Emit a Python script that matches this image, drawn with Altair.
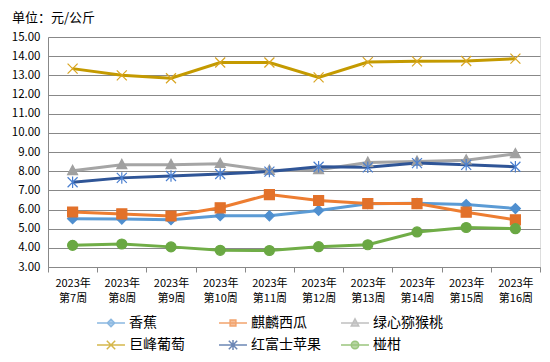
import altair as alt
import pandas as pd

weeks = ["2023年第7周", "2023年第8周", "2023年第9周", "2023年第10周", "2023年第11周",
         "2023年第12周", "2023年第13周", "2023年第14周", "2023年第15周", "2023年第16周"]
series_names = ["香蕉", "麒麟西瓜", "绿心猕猴桃", "巨峰葡萄", "红富士苹果", "椪柑"]
banana = [5.52, 5.50, 5.47, 5.68, 5.67, 5.95, 6.30, 6.32, 6.26, 6.05]
watermelon = [5.87, 5.77, 5.66, 6.09, 6.78, 6.47, 6.31, 6.31, 5.86, 5.46]
kiwi = [8.02, 8.33, 8.33, 8.39, 8.03, 8.07, 8.45, 8.50, 8.57, 8.90]
grape = [13.35, 13.00, 12.85, 13.67, 13.67, 12.89, 13.69, 13.73, 13.75, 13.87]
apple = [7.42, 7.65, 7.75, 7.85, 7.98, 8.23, 8.20, 8.42, 8.33, 8.23]
ponkan = [4.13, 4.20, 4.05, 3.87, 3.86, 4.06, 4.16, 4.83, 5.06, 5.00]
values = [banana, watermelon, kiwi, grape, apple, ponkan]

line_colors = ["#5B9BD5", "#ED7D31", "#A5A5A5", "#C49A00", "#2F5597", "#70AD47"]
marker_colors = ["#4F8FCF", "#E2712A", "#A0A0A0", "#D9A520", "#4A7FD0", "#6AA843"]

rows = []
for name, vals in zip(series_names, values):
    for w, v in zip(weeks, vals):
        rows.append({"week": w, "series": name, "value": v})
df = pd.DataFrame(rows)

FONT = "Noto Sans CJK SC"

marker_shapes = [
    "diamond",
    "square",
    "M0,-1.1L1,0.75H-1Z",
    "M-1,-1L1,1M-1,1L1,-1",
    "M-1,-1L1,1M-1,1L1,-1M0,-1.15V1.15",
    "circle",
]
# legend symbols: a horizontal line with the marker in the middle
legend_shapes = [
    "M-2.33,0H2.33M0,-0.62L0.62,0L0,0.62L-0.62,0Z",
    "M-2.33,0H2.33M-0.48,-0.48H0.48V0.48H-0.48Z",
    "M-2.33,0H2.33M0,-0.7L0.62,0.48H-0.62Z",
    "M-2.33,0H2.33M-0.7,-0.7L0.7,0.7M-0.7,0.7L0.7,-0.7",
    "M-2.33,0H2.33M-0.7,-0.7L0.7,0.7M-0.7,0.7L0.7,-0.7M0,-0.85V0.85",
    "M-2.33,0H2.33M0.62,0A0.62,0.62 0 1,1 -0.62,0A0.62,0.62 0 1,1 0.62,0Z",
]

x_enc = alt.X("week:N", sort=weeks,
              scale=alt.Scale(type="band", paddingInner=0, paddingOuter=0),
              axis=alt.Axis(title=None, labelAngle=0, tickBand="extent",
                            labelExpr="[slice(datum.label,0,5), slice(datum.label,5)]",
                            labelFont=FONT, labelFontSize=11, labelColor="#000000",
                            labelPadding=5, labelLineHeight=15,
                            domainColor="#888888", tickColor="#888888", tickSize=5,
                            grid=False))
y_enc = alt.Y("value:Q",
              scale=alt.Scale(domain=[3, 15], nice=False, zero=False),
              axis=alt.Axis(title=None, values=list(range(3, 16)), format=".2f",
                            labelFont=FONT, labelFontSize=11.5, labelColor="#000000",
                            labelPadding=8, ticks=False, domainColor="#888888",
                            gridColor="#888888", gridWidth=1))

base = alt.Chart(df)

lines = base.mark_line(strokeWidth=3).encode(
    x=x_enc, y=y_enc,
    color=alt.Color("series:N", sort=series_names,
                    scale=alt.Scale(domain=series_names, range=line_colors), legend=None),
    detail="series:N",
)

points = base.mark_point(filled=True, size=100, strokeWidth=1.2, opacity=1).encode(
    x=x_enc, y=y_enc,
    shape=alt.Shape("series:N", scale=alt.Scale(domain=series_names, range=marker_shapes), legend=None),
    fill=alt.Fill("series:N", scale=alt.Scale(domain=series_names, range=marker_colors), legend=None),
    stroke=alt.Stroke("series:N", scale=alt.Scale(domain=series_names, range=marker_colors), legend=None),
)


def make_legend():
    return alt.Legend(title=None, orient="none", legendX=56, legendY=278,
                      direction="horizontal", columns=3, gridAlign="all",
                      columnPadding=17, rowPadding=5, symbolSize=144,
                      labelFont=FONT, labelFontSize=14, labelColor="#000000",
                      labelOffset=11)


legend_layer = base.mark_point(filled=True, size=0, strokeWidth=2.5).encode(
    x=x_enc, y=y_enc,
    shape=alt.Shape("series:N", scale=alt.Scale(domain=series_names, range=legend_shapes),
                    legend=make_legend()),
    fill=alt.Fill("series:N", scale=alt.Scale(domain=series_names, range=line_colors),
                  legend=make_legend()),
    stroke=alt.Stroke("series:N", scale=alt.Scale(domain=series_names, range=line_colors),
                      legend=make_legend()),
)

chart = alt.layer(lines, points, legend_layer).resolve_scale(
    shape="independent", fill="independent", stroke="independent"
).properties(
    width=492, height=230,
    title=alt.TitleParams("单位：元/公斤", anchor="start", frame="group", dx=-36, offset=6,
                          font=FONT, fontSize=13, fontWeight="normal", color="#000000"),
    autosize=alt.AutoSizeParams(type="none"),
    padding={"left": 40, "top": 29, "right": 2, "bottom": 95},
).configure_view(stroke=None).configure(background="#ffffff")

chart.save("out.html", embed_options={"renderer": "svg", "actions": False})
